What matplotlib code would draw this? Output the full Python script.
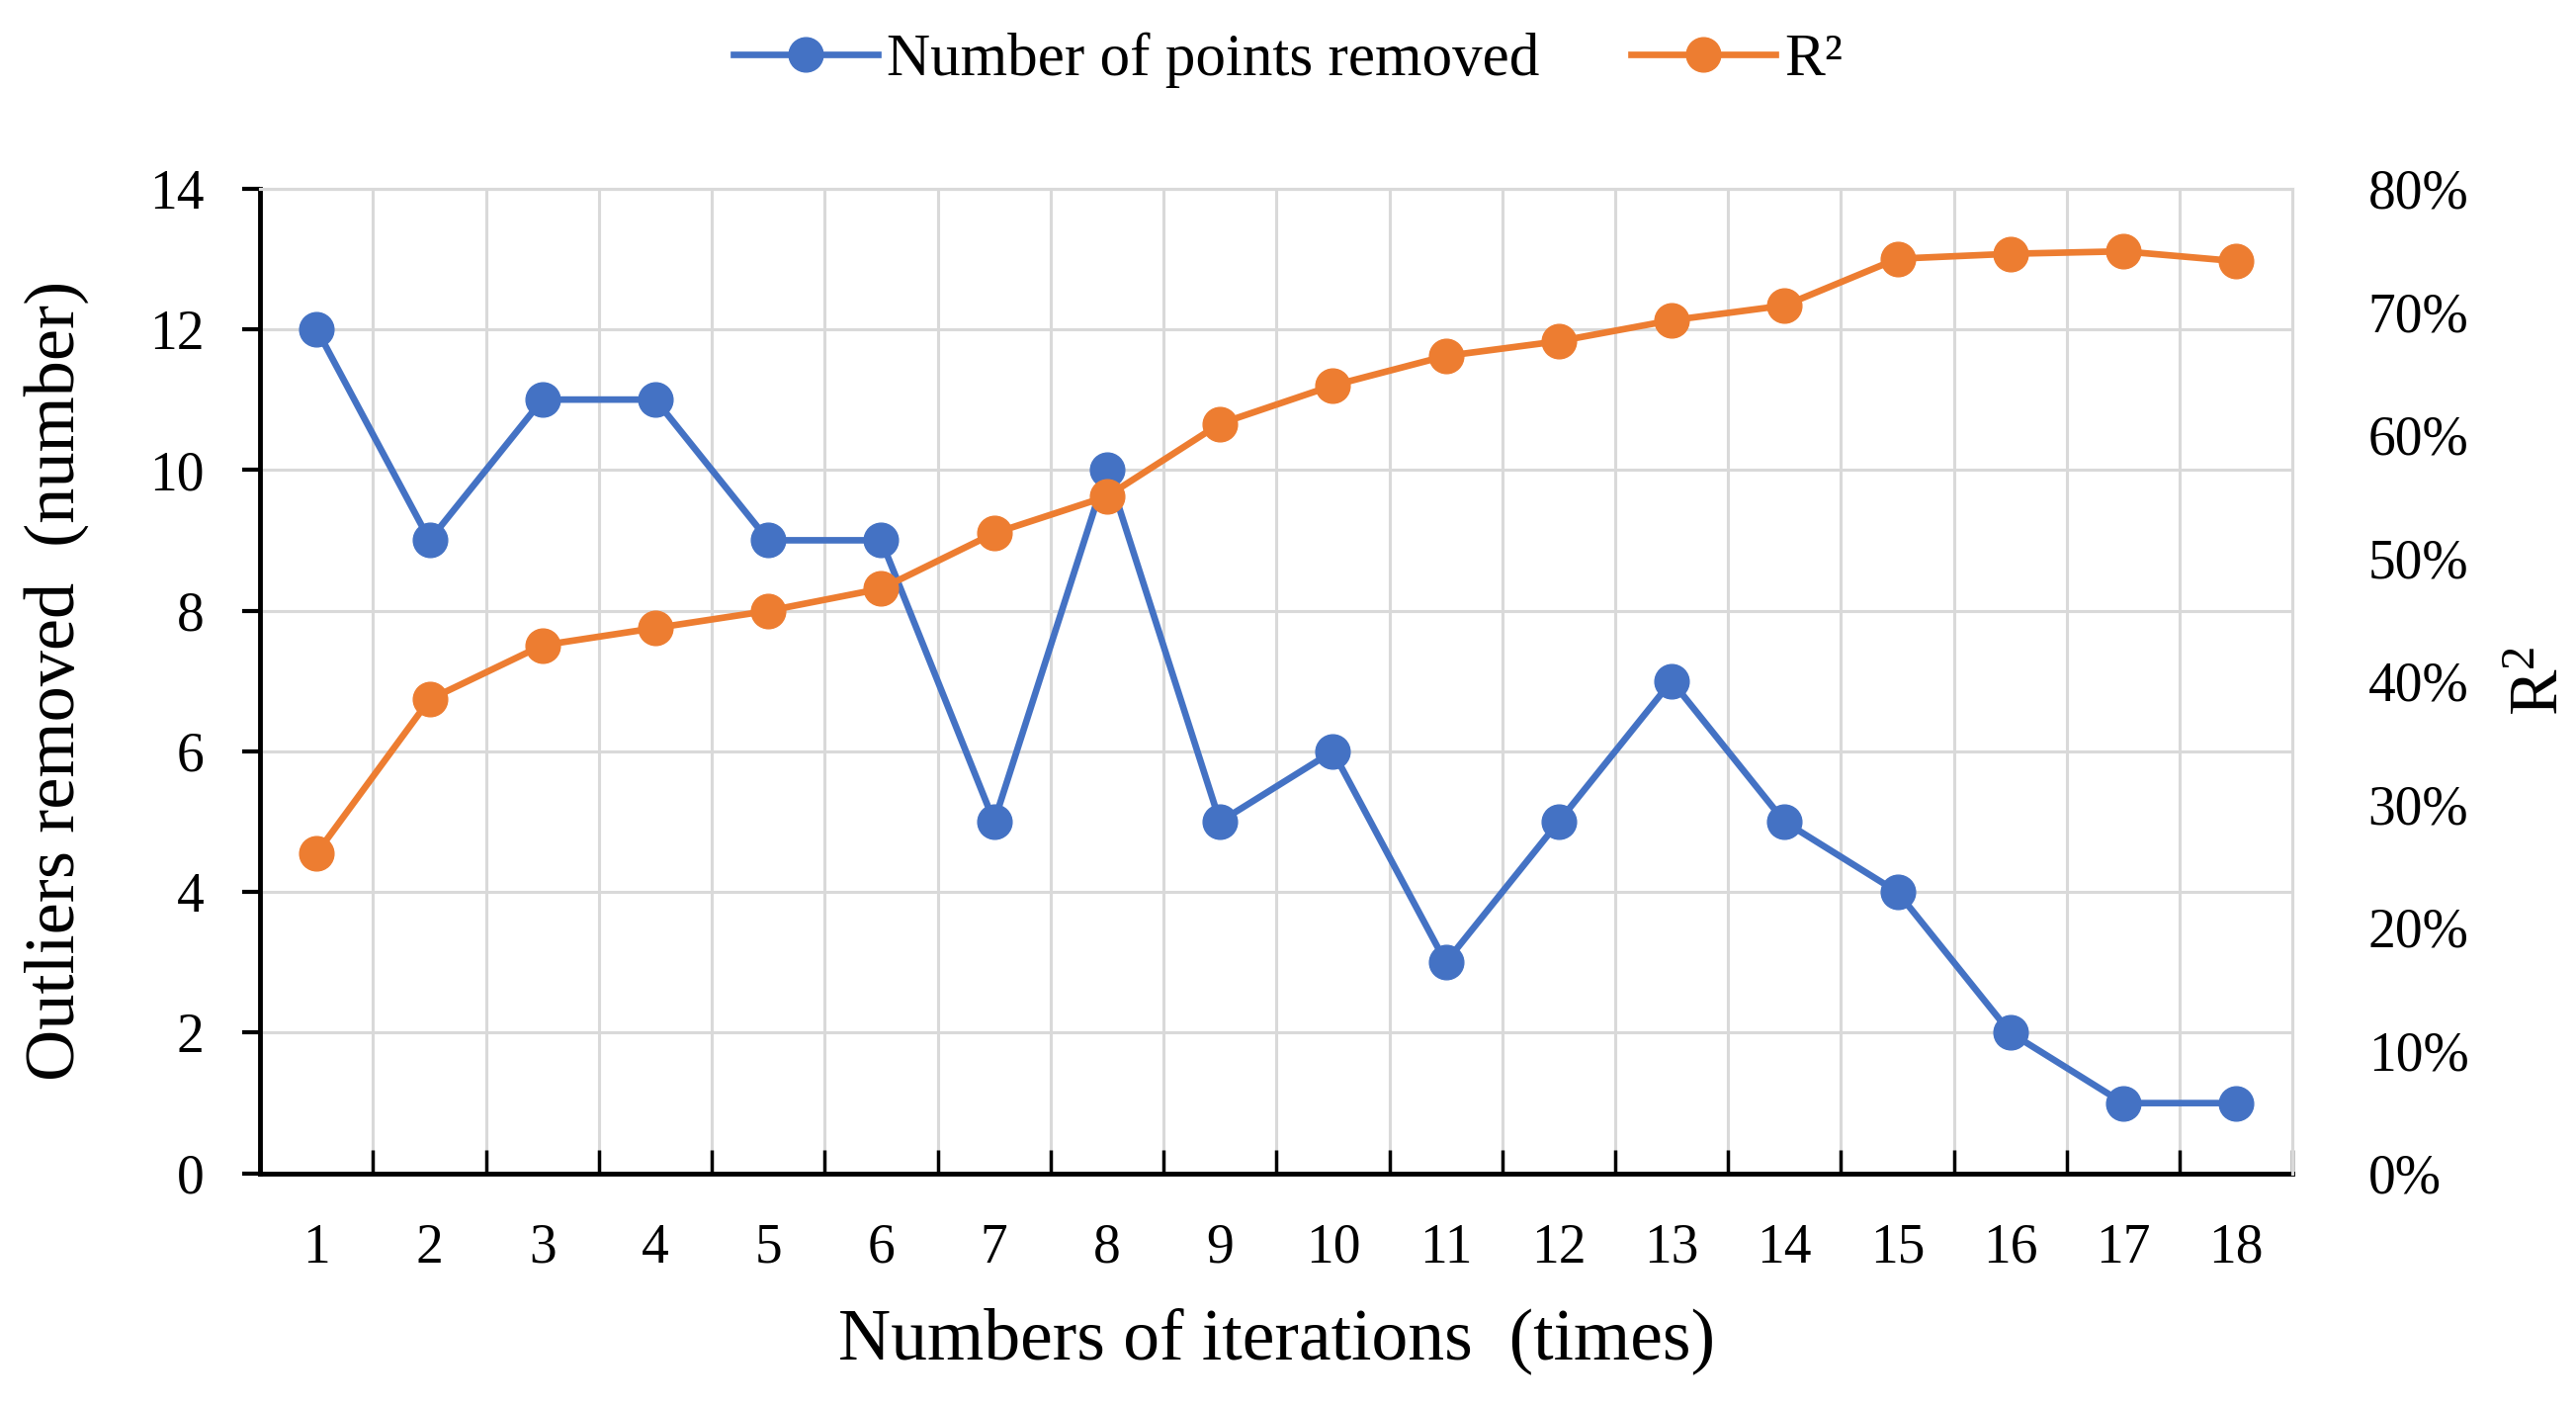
import matplotlib.pyplot as plt
from matplotlib.ticker import FuncFormatter, FixedLocator
from matplotlib.lines import Line2D
import numpy as np

plt.rcParams['font.family'] = ['Liberation Serif', 'DejaVu Serif']
plt.rcParams['mathtext.fontset'] = 'custom'
plt.rcParams['mathtext.rm'] = 'Liberation Serif'
plt.rcParams['mathtext.it'] = 'Liberation Serif'

iterations = list(range(1, 19))
points_removed = [12, 9, 11, 11, 9, 9, 5, 10, 5, 6, 3, 5, 7, 5, 4, 2, 1, 1]
r_squared = [26.0, 38.5, 42.9, 44.3, 45.7, 47.5, 52.0, 55.0, 60.9, 64.0,
             66.4, 67.6, 69.3, 70.5, 74.3, 74.7, 74.9, 74.1]

blue = '#4472C4'
orange = '#ED7D31'
grid_c = '#D9D9D9'
lw = 4.8
ms = 25

fig = plt.figure(figsize=(26.06, 14.23), dpi=100)
ax = fig.add_axes([0.101, 0.166, 0.789, 0.700])
ax2 = ax.twinx()

x = np.array(iterations)
ax.plot(x, points_removed, color=blue, lw=lw, marker='o', ms=ms, zorder=3)
ax2.plot(x, np.array(r_squared) / 100, color=orange, lw=lw, marker='o', ms=ms, zorder=3)

ax.set_xlim(0.5, 18.5)
ax.set_ylim(0, 14)
ax2.set_ylim(0, 0.8)

# categories at centres, boundaries get the ticks and vertical grid
ax.set_xticks(x)
ax.set_xticklabels([str(i) for i in iterations])
ax.xaxis.set_minor_locator(FixedLocator(np.arange(0.5, 19, 1)))
ax.tick_params(axis='x', which='major', length=0, labelsize=40, pad=36)
ax.tick_params(axis='x', which='minor', direction='in', length=17, width=2.5, color='black')
ax.grid(True, axis='x', which='minor', color=grid_c, lw=2.2)

ax.set_yticks(np.arange(0, 15, 2))
ax.tick_params(axis='y', which='major', direction='out', length=13, width=3, labelsize=40, pad=28)
ax.grid(True, axis='y', which='major', color=grid_c, lw=2.2)
ax.set_axisbelow(True)

ax2.set_yticks(np.arange(0, 0.81, 0.1))
ax2.yaxis.set_major_formatter(FuncFormatter(lambda v, p: f'{v*100:.0f}%'))
ax2.tick_params(axis='y', length=0, labelsize=40, pad=55)

for a in (ax, ax2):
    a.spines['top'].set_color(grid_c)
    a.spines['right'].set_color(grid_c)
    a.spines['top'].set_linewidth(2.2)
    a.spines['right'].set_linewidth(2.2)
    a.spines['left'].set_linewidth(3.5)
    a.spines['bottom'].set_linewidth(3.5)
ax2.spines['left'].set_visible(False)
ax2.spines['bottom'].set_visible(False)

ax.set_xlabel('Numbers of iterations\u2002(times)', fontsize=53, labelpad=24)
ax.set_ylabel('Outliers removed\u2002(number)', fontsize=52, labelpad=44)
ax2.set_ylabel('R$^2$', fontsize=50, labelpad=30)

handles = [Line2D([], [], color=blue, lw=lw, marker='o', ms=ms),
           Line2D([], [], color=orange, lw=lw, marker='o', ms=ms)]
fig.legend(handles, ['Number of points removed', 'R\u00b2'], loc='center',
           bbox_to_anchor=(0.5, 0.957), ncol=2, frameon=False, fontsize=44,
           handlelength=2.4, columnspacing=1.5, handletextpad=0.15)

fig.savefig('out.png', dpi=100)
